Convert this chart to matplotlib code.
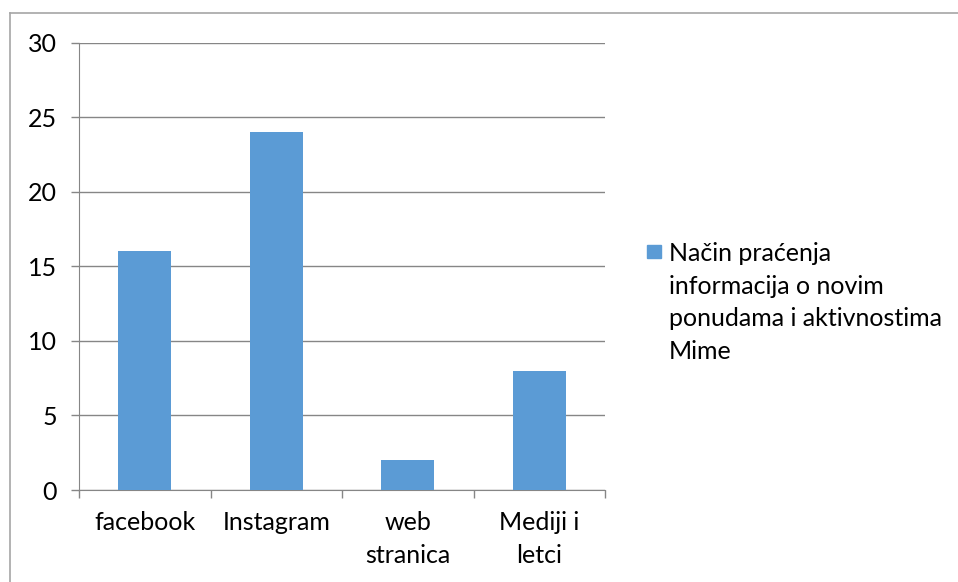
import numpy as np
import matplotlib.pyplot as plt
from matplotlib.patches import Rectangle
from matplotlib.lines import Line2D

categories = ["facebook", "Instagram", "web\nstranica", "Mediji i\nletci"]
values = [16, 24, 2, 8]
series_name = "Način praćenja\ninformacija o novim\nponudama i aktivnostima\nMime"
y_ticks = [0, 5, 10, 15, 20, 25, 30]

bar_color = "#5B9BD5"
grid_color = "#868686"

plt.rcParams['font.family'] = ['Lato', 'DejaVu Sans']

fig = plt.figure(figsize=(9.58, 5.82), dpi=100)
ax = fig.add_axes([79 / 958, 1 - 490 / 582, (605 - 79) / 958, (490 - 42.5) / 582])

x = np.arange(len(categories))
ax.bar(x, values, width=0.4, color=bar_color, zorder=3)

ax.set_xlim(-0.5, len(categories) - 0.5)
ax.set_ylim(0, 30)
ax.set_yticks(y_ticks)
ax.yaxis.grid(True, color=grid_color, linewidth=1)
ax.set_axisbelow(True)

# category labels sit between the boundary ticks
ax.set_xticks(x)
ax.set_xticklabels(categories, fontsize=18, linespacing=1.55)
ax.tick_params(axis='x', length=0, pad=15)
ax.set_xticks(np.arange(-0.5, len(categories)), minor=True)
ax.tick_params(axis='x', which='minor', length=5.5, color=grid_color, width=1)
ax.tick_params(axis='y', length=6, color=grid_color, width=1, labelsize=18, pad=10)

for s in ['top', 'right']:
    ax.spines[s].set_visible(False)
ax.spines['left'].set_color(grid_color)
ax.spines['bottom'].set_color(grid_color)

# legend drawn by hand, square next to first line
fig.add_artist(Rectangle((647 / 958, 1 - 258 / 582), 14 / 958, 13 / 582,
                         transform=fig.transFigure, color=bar_color))
fig.text(669 / 958, 1 - 242 / 582, series_name, fontsize=18, va='top',
         ha='left', linespacing=1.5)

# chart area outline (top and left visible)
fig.add_artist(Line2D([10 / 958, 10 / 958], [0, 1 - 13 / 582], color="#A6A6A6",
                      linewidth=1.2, transform=fig.transFigure))
fig.add_artist(Line2D([10 / 958, 1], [1 - 13 / 582, 1 - 13 / 582], color="#A6A6A6",
                      linewidth=1.2, transform=fig.transFigure))

fig.savefig("out.png", dpi=100)
